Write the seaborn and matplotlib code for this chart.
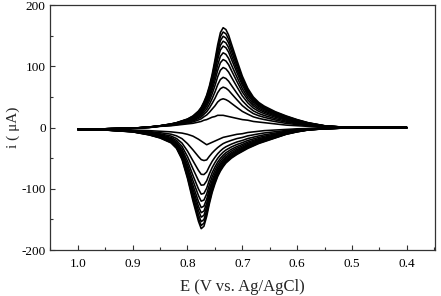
import numpy as np
import pandas as pd
import matplotlib
matplotlib.use("Agg")
import matplotlib.pyplot as plt
import seaborn as sns
from matplotlib.ticker import MultipleLocator, FormatStrFormatter

# potential grid (V vs Ag/AgCl), scan goes 1.0 -> 0.4 -> 1.0
E = [1.00, 0.95, 0.90, 0.87, 0.85, 0.83, 0.82, 0.81, 0.80, 0.79, 0.78, 0.775,
     0.77, 0.765, 0.76, 0.755, 0.75, 0.745, 0.74, 0.735, 0.73, 0.725, 0.72,
     0.71, 0.70, 0.69, 0.68, 0.67, 0.66, 0.64, 0.62, 0.60, 0.58, 0.55, 0.52,
     0.50, 0.45, 0.40]

# outermost curve, upper (positive) branch, uA
big_up = [-3, -2, -1, 1, 3, 6, 8, 11, 14, 19, 27, 33,
          42, 53, 68, 87, 110, 135, 155, 163, 160, 151, 137,
          110, 84, 64, 50, 41, 35, 26, 19, 13, 8, 3, 1,
          0.5, 0, 0]
# innermost curve, upper branch
small_up = [-3, -2, -1, 0, 2, 3, 4, 5, 6, 7, 9, 10,
            12, 13, 15, 17, 18, 20, 20, 20, 19, 18, 17,
            15, 13, 12, 10, 9, 8, 6, 4, 3, 2, 1, 0.5,
            0, 0, 0]
# outermost curve, lower (negative) branch
big_down = [-3, -4, -7, -12, -17, -25, -34, -52, -83, -120, -153, -165,
            -161, -145, -124, -106, -92, -80, -71, -64, -58, -54, -50,
            -44, -39, -34, -30, -26, -23, -17, -11, -7, -4, -2, -1,
            -0.5, 0, 0]
# innermost curve, lower branch
small_down = [-3, -3, -4, -5, -6, -7, -8, -9, -11, -14, -19, -22,
              -25, -28, -26, -24, -22, -20, -18, -16, -15, -14, -13,
              -11, -10, -8, -7, -6, -5, -4, -3, -2, -1.5, -1, -0.5,
              0, 0, 0]

# peak currents of each voltammogram
peak_up = [20, 47, 66, 82, 98, 111, 122, 133, 141, 149, 156, 163]
peak_down = [-28, -57, -80, -97, -111, -122, -132, -140, -147, -154, -160, -165]

E = np.array(E)
big_up, small_up = np.array(big_up, float), np.array(small_up, float)
big_down, small_down = np.array(big_down, float), np.array(small_down, float)

rows = []
for k, (pu, pd_) in enumerate(zip(peak_up, peak_down)):
    wu = (pu - peak_up[0]) / (peak_up[-1] - peak_up[0])
    wd = (pd_ - peak_down[0]) / (peak_down[-1] - peak_down[0])
    up = small_up + wu * (big_up - small_up)
    down = small_down + wd * (big_down - small_down)
    # forward: upper branch 1.0 -> 0.4, back: lower branch 0.4 -> 1.0
    ee = np.concatenate([E, E[::-1]])
    ii = np.concatenate([up, down[::-1]])
    for n, (a, b) in enumerate(zip(ee, ii)):
        rows.append({"E": a, "i": b, "scan": k, "order": n})
df = pd.DataFrame(rows)

sns.set_style("ticks")
plt.rcParams["font.family"] = ["Liberation Serif", "DejaVu Serif"]
plt.rcParams["axes.unicode_minus"] = False

fig = plt.figure(figsize=(4.41, 2.96), dpi=100)
ax = fig.add_axes([0.113, 0.155, 0.873, 0.828])

sns.lineplot(data=df, x="E", y="i", units="scan", estimator=None, sort=False,
             color="black", linewidth=1.15, ax=ax)

ax.set_xlim(1.051, 0.349)
ax.set_ylim(-200, 200)
ax.xaxis.set_major_locator(MultipleLocator(0.1))
ax.xaxis.set_minor_locator(MultipleLocator(0.05))
ax.xaxis.set_major_formatter(FormatStrFormatter("%.1f"))
ax.yaxis.set_major_locator(MultipleLocator(100))
ax.yaxis.set_minor_locator(MultipleLocator(50))
ax.tick_params(which="both", direction="in", labelsize=9.5, width=0.8,
               colors="#333333", labelcolor="black")
ax.tick_params(which="major", length=3.5)
ax.tick_params(which="minor", length=2)
ax.tick_params(axis="x", pad=6)
ax.tick_params(axis="y", pad=3)
for s in ax.spines.values():
    s.set_visible(True)
    s.set_linewidth(0.9)
    s.set_color("#333333")

ax.set_xlabel("E (V vs. Ag/AgCl)", fontsize=12, labelpad=6)
ax.set_ylabel("i ( \u03bcA)", fontsize=11)
ax.yaxis.set_label_coords(-0.078, 0.5)

fig.savefig("out.png", dpi=100)
